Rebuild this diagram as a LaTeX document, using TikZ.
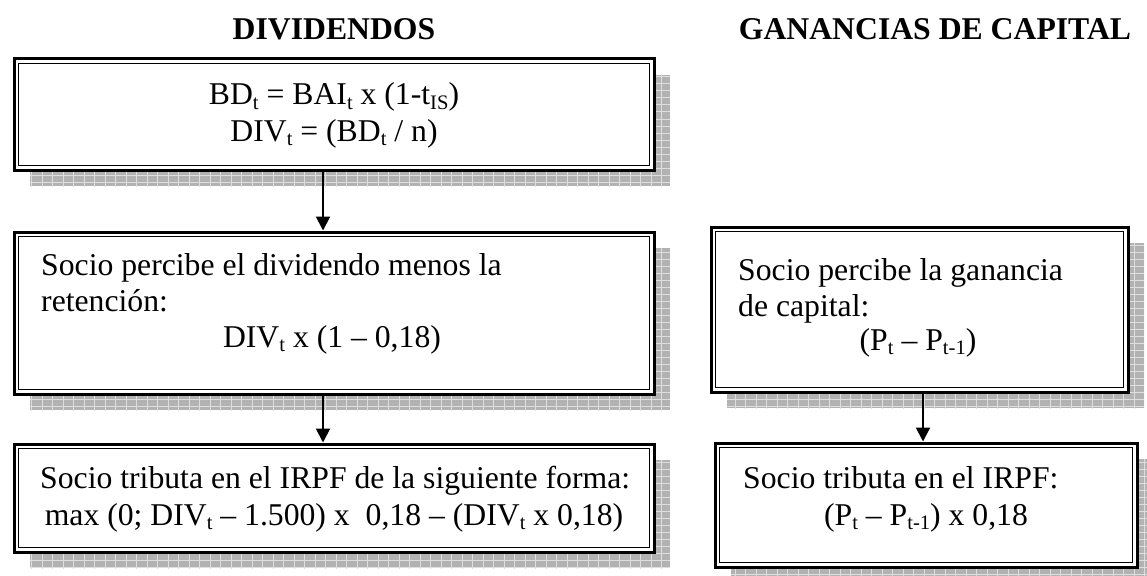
\documentclass[tikz,border=0pt]{standalone}
\usepackage{fontspec}
\setmainfont{Liberation Serif}
\usetikzlibrary{arrows.meta}
\newcommand\sbs[1]{\raisebox{-4.5pt}{\fontsize{20.6}{20.6}\selectfont #1}}
\definecolor{shfill}{RGB}{178,178,178}
\definecolor{shline}{RGB}{222,222,222}
\tikzset{
 boxnode/.style={rectangle, draw=black, line width=3pt, fill=white, inner sep=0pt, outer sep=0pt},
 txt/.style={inner sep=0pt, font=\fontsize{31.7}{36}\selectfont},
 ttl/.style={inner sep=0pt, font=\fontsize{31.7}{36}\selectfont\bfseries},
 arr/.style={line width=2pt, -{Triangle[width=14pt,length=14pt]}, shorten >=1.5pt},
}
\newcommand\shbox[5]{%
  \begin{scope}
   \clip ({#2+16},{#3+16}) rectangle ({#4+16},{#5+16});
   \fill[shfill] ({#2+16},{#3+16}) rectangle ({#4+16},{#5+16});
   \foreach \gx in {0,10.5,...,1160} \draw[shline, line width=1pt] (\gx,0) -- (\gx,600);
   \foreach \gy in {0,7,...,600} \draw[shline, line width=1pt] (0,\gy) -- (1160,\gy);
  \end{scope}
  \pgfmathsetmacro\bw{#4-#2}\pgfmathsetmacro\bh{#5-#3}
  \node[boxnode, minimum width=\bw pt, minimum height=\bh pt] (#1) at ({(#2+#4)/2},{(#3+#5)/2}) {};
  \draw[line width=1.6pt] ([shift={(4.5pt,-4.5pt)}]#1.north west) rectangle ([shift={(-4.5pt,4.5pt)}]#1.south east);
}
\begin{document}
\begin{tikzpicture}[x=1pt,y=-1pt]
\useasboundingbox (0,0) rectangle (1147,575);
\node[ttl, anchor=base] (t1) at (334,40) {DIVIDENDOS};
\node[ttl, anchor=base] (t2) at (935,40) {GANANCIAS DE CAPITAL};

\shbox{b1}{14}{59}{654}{170}
\shbox{b2}{14}{232}{654}{394}
\shbox{b3}{14}{444}{654}{552}
\shbox{r2}{711}{227}{1128}{392}
\shbox{r3}{715}{443}{1137}{567}

\node[txt, anchor=base] (b1a) at (334,105) {BD\sbs{t} = BAI\sbs{t} x (1-t\sbs{IS})};
\node[txt, anchor=base] (b1b) at (334,141) {DIV\sbs{t} = (BD\sbs{t} / n)};

\node[txt, anchor=base west] (b2a) at (41,275) {Socio percibe el dividendo menos la};
\node[txt, anchor=base west] (b2b) at (41,311) {retención:};
\node[txt, anchor=base] (b2c) at (332,347) {DIV\sbs{t} x (1 – 0,18)};

\node[txt, anchor=base west] (b3a) at (40,488) {Socio tributa en el IRPF de la siguiente forma:};
\node[txt, anchor=base] (b3b) at (334,525) {max (0; DIV\sbs{t} – 1.500) x \ 0,18 – (DIV\sbs{t} x 0,18)};

\node[txt, anchor=base west] (r2a) at (738,280) {Socio percibe la ganancia};
\node[txt, anchor=base west] (r2b) at (738,316) {de capital:};
\node[txt, anchor=base] (r2c) at (918,350) {(P\sbs{t} – P\sbs{t-1})};

\node[txt, anchor=base west] (r3a) at (743,488) {Socio tributa en el IRPF:};
\node[txt, anchor=base] (r3b) at (926,525) {(P\sbs{t} – P\sbs{t-1}) x 0,18};

\coordinate (axl) at (323,0);
\coordinate (axr) at (923,0);
\draw[arr] (b1.south -| axl) -- (b2.north -| axl);
\draw[arr] (b2.south -| axl) -- (b3.north -| axl);
\draw[arr] (r2.south -| axr) -- (r3.north -| axr);
\end{tikzpicture}
\end{document}
